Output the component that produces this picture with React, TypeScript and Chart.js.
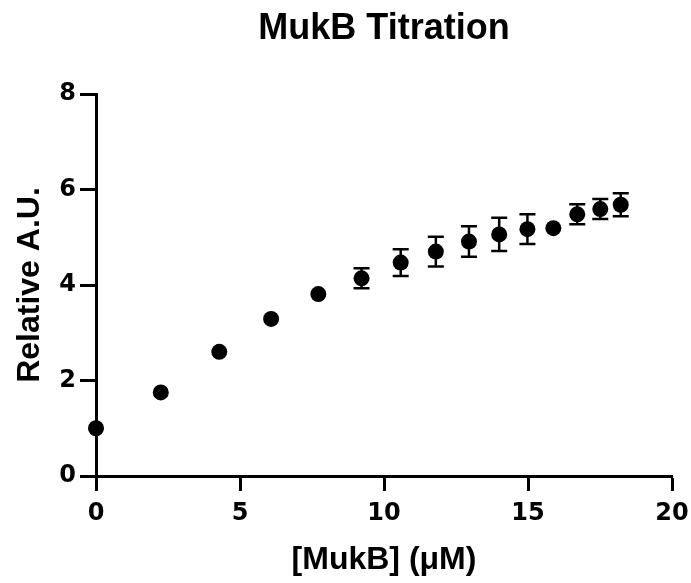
import React, { useEffect, useRef } from "react";
import { Chart, registerables } from "chart.js";

Chart.register(...registerables);

const chartTitle = "MukB Titration";
const xAxisTitle = "[MukB] (\u03bcM)";
const yAxisTitle = "Relative A.U.";

const concentrations = [0, 2.25, 4.28, 6.08, 7.72, 9.22, 10.58, 11.8, 12.95, 14.0, 14.98, 15.88, 16.71, 17.51, 18.22];
const relativeAU = [1.0, 1.75, 2.6, 3.29, 3.81, 4.14, 4.47, 4.7, 4.91, 5.06, 5.17, 5.19, 5.48, 5.59, 5.68];
const errors = [0, 0, 0, 0, 0, 0.21, 0.28, 0.31, 0.32, 0.35, 0.31, 0, 0.21, 0.21, 0.24];

const xMin = 0, xMax = 20, xStep = 5;
const yMin = 0, yMax = 8, yStep = 2;

const FONT = "Arial, 'Liberation Sans', sans-serif";
const TICK_FONT = "'DejaVu Sans', Arial, sans-serif";

const errorBarPlugin = {
  id: "errorBars",
  beforeDatasetsDraw(chart: any) {
    const ctx = chart.ctx;
    const xs = chart.scales.x;
    const ys = chart.scales.y;
    ctx.save();
    ctx.strokeStyle = "#000";
    ctx.lineWidth = 2.5;
    const cap = 8;
    for (let i = 0; i < concentrations.length; i++) {
      const e = errors[i];
      if (!e) continue;
      const px = xs.getPixelForValue(concentrations[i]);
      const top = ys.getPixelForValue(relativeAU[i] + e);
      const bot = ys.getPixelForValue(relativeAU[i] - e);
      ctx.beginPath();
      ctx.moveTo(px, top);
      ctx.lineTo(px, bot);
      ctx.moveTo(px - cap, top);
      ctx.lineTo(px + cap, top);
      ctx.moveTo(px - cap, bot);
      ctx.lineTo(px + cap, bot);
      ctx.stroke();
    }
    ctx.restore();
  },
};

export default function App() {
  const ref = useRef<HTMLCanvasElement | null>(null);
  useEffect(() => {
    if (!ref.current) return;
    const chart = new Chart(ref.current, {
      type: "scatter",
      data: {
        datasets: [
          {
            data: concentrations.map((x, i) => ({ x, y: relativeAU[i] })),
            backgroundColor: "#000",
            borderColor: "#000",
            borderWidth: 0,
            pointRadius: 8,
            pointHoverRadius: 8,
            clip: false as any,
          },
        ],
      },
      options: {
        animation: false,
        responsive: true,
        maintainAspectRatio: false,
        layout: { padding: { left: 0, right: 19, top: 0, bottom: 0 } },
        plugins: {
          legend: { display: false },
          tooltip: { enabled: false },
          title: {
            display: true,
            text: chartTitle,
            fullSize: false,
            color: "#000",
            font: { family: FONT, size: 36, weight: "bold", lineHeight: 1.2 },
            padding: { top: 7.4, bottom: 43.4 },
          },
        },
        scales: {
          x: {
            type: "linear",
            min: xMin,
            max: xMax,
            border: { display: true, color: "#000", width: 3 },
            grid: { drawOnChartArea: false, drawTicks: true, tickLength: 15, tickWidth: 3, tickColor: "#000" },
            ticks: { stepSize: xStep, color: "#000", padding: 8, font: { family: TICK_FONT, size: 24, weight: "bold" } },
            title: {
              display: true,
              text: xAxisTitle,
              color: "#000",
              font: { family: FONT, size: 32, weight: "bold", lineHeight: 1.2 },
              padding: { top: 0, bottom: 4 },
            },
            afterFit(scale: any) {
              scale.height = 107;
              scale.paddingLeft = 0;
              scale.paddingRight = 0;
            },
          },
          y: {
            type: "linear",
            min: yMin,
            max: yMax,
            border: { display: true, color: "#000", width: 3 },
            grid: { drawOnChartArea: false, drawTicks: true, tickLength: 16, tickWidth: 3, tickColor: "#000" },
            ticks: { stepSize: yStep, color: "#000", padding: 4, font: { family: TICK_FONT, size: 24, weight: "bold" } },
            title: {
              display: true,
              text: yAxisTitle,
              color: "#000",
              font: { family: FONT, size: 32, weight: "bold", lineHeight: 1.2 },
              padding: { top: 11, bottom: 0 },
            },
            afterFit(scale: any) {
              scale.width = 96;
            },
          },
        },
      },
      plugins: [errorBarPlugin],
    });
    return () => chart.destroy();
  }, []);
  return (
    <div style={{ position: "absolute", left: 0, top: 0, width: 691, height: 583, background: "#fff" }}>
      <canvas ref={ref} />
    </div>
  );
}
